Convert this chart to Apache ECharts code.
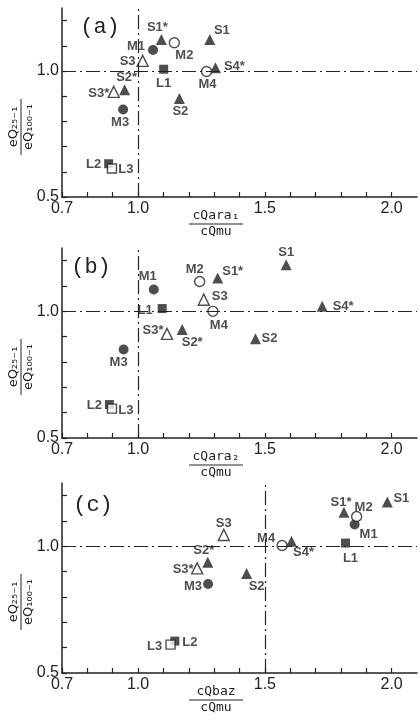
<!DOCTYPE html>
<html>
<head>
<meta charset="utf-8">
<script src="https://cdn.jsdelivr.net/npm/echarts@6/dist/echarts.min.js"></script>
<style>
  html, body { margin: 0; padding: 0; background: #fff; }
  #main { width: 419px; height: 720px; }
</style>
</head>
<body>
<div id="main"></div>
<script>
// station / model names, same order in every panel
var names = ['S1', 'S1*', 'S2', 'S2*', 'S3', 'S3*', 'S4*', 'M1', 'M2', 'M3', 'M4', 'L1', 'L2', 'L3'];

// (a) cQara1 / cQmu
var xA = [1.283, 1.092, 1.163, 0.947, 1.018, 0.904, 1.305, 1.059, 1.143, 0.941, 1.270, 1.101, 0.884, 0.897];
var yA = [1.125, 1.125, 0.891, 0.926, 1.040, 0.917, 1.013, 1.083, 1.112, 0.847, 0.998, 1.007, 0.632, 0.613];
// (b) cQara2 / cQmu
var xB = [1.584, 1.314, 1.463, 1.174, 1.259, 1.114, 1.726, 1.062, 1.243, 0.943, 1.295, 1.095, 0.887, 0.897];
var yB = [1.184, 1.132, 0.892, 0.928, 1.046, 0.911, 1.020, 1.086, 1.118, 0.849, 1.000, 1.011, 0.632, 0.616];
// (c) cQbaz / cQmu
var xC = [1.983, 1.812, 1.428, 1.275, 1.338, 1.233, 1.605, 1.854, 1.862, 1.276, 1.568, 1.818, 1.145, 1.128];
var yC = [1.175, 1.135, 0.893, 0.937, 1.045, 0.913, 1.020, 1.086, 1.118, 0.851, 1.003, 1.013, 0.626, 0.612];

// dash-dot reference lines
var refX = [1.0, 1.0, 1.5];
var refY = [1.0, 1.0, 1.0];

// axis ticks and labels
var xTicks = [0.7, 0.8, 0.9, 1.0, 1.1, 1.2, 1.3, 1.4, 1.5, 1.6, 1.7, 1.8, 1.9, 2.0];
var xLabels = [0.7, 1.0, 1.5, 2.0];
var yTicks = [0.5, 0.6, 0.7, 0.8, 0.9, 1.0, 1.1, 1.2];
var yLabels = [0.5, 1.0];

var panelTags = ['(a)', '(b)', '(c)'];
var xNames = ['cQara\u2081', 'cQara\u2082', 'cQbaz'];

// marker kind of each name
var kinds = ['tri', 'tri', 'tri', 'tri', 'otri', 'otri', 'tri', 'dot', 'ring', 'dot', 'ring', 'sq', 'sq', 'osq'];

// label offsets [dx, dy] from the marker centre, per panel
var offA = [[12, -9], [-4, -12], [1, 13], [2, -12], [-15, 1], [-15, 2], [19, -1], [-17, -4], [10, 13], [-3, 13], [1, 13], [0, 14], [-15, 1], [14, 1]];
var offB = [[0, -12], [15, -6], [14, 0], [10, 13], [16, -3], [-14, -3], [21, 0], [-6, -13], [-5, -12], [-5, 13], [6, 14], [-17, 2], [-15, 1], [14, 2]];
var offC = [[14, -4], [-3, -10], [10, 13], [-4, -12], [0, -12], [-14, 1], [12, 11], [14, 10], [7, -9], [-15, 2], [-16, -7], [5, 15], [15, 1], [-16, 2]];

var ink = '#222';
var kindStyle = {
    tri:  { symbol: 'triangle', size: 11, itemStyle: { color: ink } },
    otri: { symbol: 'triangle', size: 11, itemStyle: { color: '#fff', borderColor: ink, borderWidth: 1.4 } },
    dot:  { symbol: 'circle', size: 10, itemStyle: { color: ink } },
    ring: { symbol: 'circle', size: 10, itemStyle: { color: '#fff', borderColor: ink, borderWidth: 1.4 } },
    sq:   { symbol: 'rect', size: 9, itemStyle: { color: ink } },
    osq:  { symbol: 'rect', size: 9, itemStyle: { color: '#fff', borderColor: ink, borderWidth: 1.4 } }
};

var grids = [
    { left: 62, top: 8, width: 355, height: 189 },
    { left: 62, top: 248, width: 355, height: 190 },
    { left: 62, top: 483, width: 355, height: 190 }
];

function near(v, list) {
    for (var i = 0; i < list.length; i++) {
        if (Math.abs(v - list[i]) < 1e-6) return true;
    }
    return false;
}

function buildData(xs, ys, offs) {
    var out = [];
    for (var i = 0; i < names.length; i++) {
        var k = kindStyle[kinds[i]];
        out.push({
            name: names[i],
            value: [xs[i], ys[i]],
            symbol: k.symbol,
            symbolSize: k.size,
            itemStyle: k.itemStyle,
            label: {
                show: true,
                position: 'inside',
                offset: offs[i],
                formatter: names[i],
                color: ink,
                fontFamily: '"Liberation Sans Narrow", "Liberation Sans"',
                fontWeight: 'bold',
                fontSize: 13
            }
        });
    }
    return out;
}

var xs = [xA, xB, xC];
var ys = [yA, yB, yC];
var offs = [offA, offB, offC];

var xAxes = [], yAxes = [], series = [], graphics = [];
for (var p = 0; p < 3; p++) {
    xAxes.push({
        type: 'value', gridIndex: p, min: 0.7, max: 2.1,
        axisLine: { lineStyle: { color: ink, width: 1.5 } },
        axisTick: { inside: true, length: 5, customValues: xTicks, lineStyle: { color: ink, width: 1.2 } },
        axisLabel: {
            customValues: xLabels, margin: 4, color: ink, fontSize: 16,
            fontFamily: '"Liberation Sans Narrow", "Liberation Sans"',
            formatter: function (v) { return near(v, xLabels) ? v.toFixed(1) : ''; }
        },
        splitLine: { show: false }
    });
    yAxes.push({
        type: 'value', gridIndex: p, min: 0.5, max: 1.25,
        axisLine: { lineStyle: { color: ink, width: 1.5 } },
        axisTick: { inside: true, length: 5, customValues: yTicks, lineStyle: { color: ink, width: 1.2 } },
        axisLabel: {
            customValues: yLabels, margin: 3, color: ink, fontSize: 16,
            fontFamily: '"Liberation Sans Narrow", "Liberation Sans"',
            formatter: function (v) { return near(v, yLabels) ? v.toFixed(1) : ''; }
        },
        splitLine: { show: false }
    });
    series.push({
        type: 'scatter', xAxisIndex: p, yAxisIndex: p,
        data: buildData(xs[p], ys[p], offs[p]),
        markLine: {
            silent: true, symbol: 'none', label: { show: false },
            lineStyle: { color: ink, width: 1.2, type: [14, 4, 2, 4] },
            data: [{ yAxis: refY[p] }, { xAxis: refX[p] }]
        },
        z: 3
    });

    var g = grids[p];
    var bottom = g.top + g.height;
    // panel tag
    graphics.push({
        type: 'text', x: [100, 91, 93][p], y: [27, 267, 505][p],
        style: { text: panelTags[p], fill: ink, font: '22px "Liberation Mono"', align: 'center', verticalAlign: 'middle' }
    });
    // x axis name as a fraction
    graphics.push({
        type: 'group', x: 216, y: bottom + 27,
        children: [
            { type: 'text', x: 0, y: -2, style: { text: xNames[p], fill: ink, font: '13px "DejaVu Sans Mono"', align: 'center', verticalAlign: 'bottom' } },
            { type: 'line', shape: { x1: -27, y1: 0, x2: 27, y2: 0 }, style: { stroke: ink, lineWidth: 1 } },
            { type: 'text', x: 0, y: 1, style: { text: 'cQmu', fill: ink, font: '13px "DejaVu Sans Mono"', align: 'center', verticalAlign: 'top' } }
        ]
    });
    // y axis name, rotated fraction
    graphics.push({
        type: 'group', x: 21, y: g.top + 119, rotation: Math.PI / 2,
        children: [
            { type: 'text', x: 0, y: -1, style: { text: 'eQ\u2082\u2085\u208B\u2081', fill: ink, font: '13px "DejaVu Sans"', align: 'center', verticalAlign: 'bottom' } },
            { type: 'line', shape: { x1: -28, y1: 0, x2: 28, y2: 0 }, style: { stroke: ink, lineWidth: 1 } },
            { type: 'text', x: 0, y: 1, style: { text: 'eQ\u2081\u2080\u2080\u208B\u2081', fill: ink, font: '13px "DejaVu Sans"', align: 'center', verticalAlign: 'top' } }
        ]
    });
}

var myChart = echarts.init(document.getElementById('main'));
var option = {
    backgroundColor: '#fff',
    animation: false,
    grid: grids,
    xAxis: xAxes,
    yAxis: yAxes,
    series: series,
    graphic: graphics
};
myChart.setOption(option);
</script>
</body>
</html>
